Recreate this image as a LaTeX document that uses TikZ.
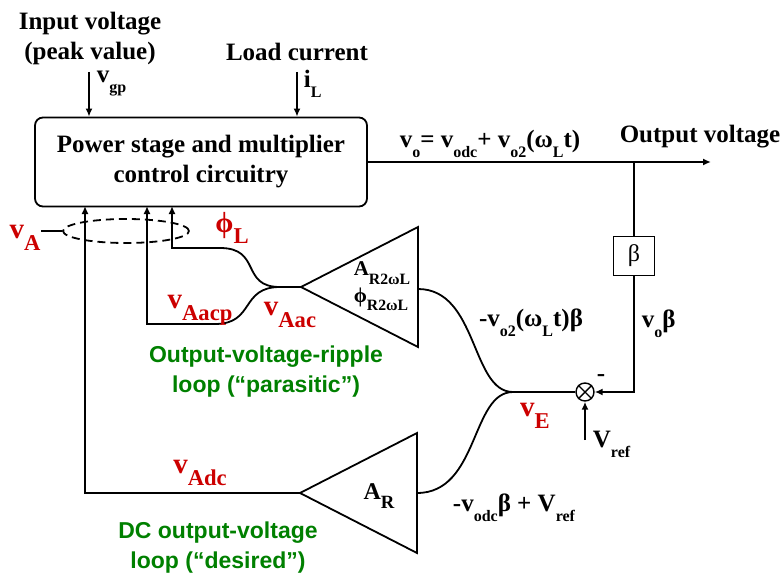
\documentclass[tikz,border=0pt]{standalone}
\usepackage{fontspec}
\setmainfont{Liberation Serif}
\newfontfamily\loopfont{Liberation Sans}
\usetikzlibrary{arrows.meta,positioning,shapes.geometric}
\definecolor{sigred}{RGB}{204,0,0}
\definecolor{loopgreen}{RGB}{0,128,0}
\newcommand{\dn}[2][0.64]{\raisebox{-0.4em}{\scalebox{#1}{#2}}}

\begin{document}
\begin{tikzpicture}[x=1pt,y=-1pt,line width=1.8pt,
  every node/.style={inner sep=0pt,font=\fontsize{25}{30}\selectfont\bfseries},
  sig/.style={text=sigred,font=\fontsize{29}{30}\selectfont\bfseries},
  looptxt/.style={text=loopgreen,align=center,font=\loopfont\fontsize{23}{30}\selectfont\bfseries},
  flow/.style={-{Latex[length=8pt,width=7pt]}},
  stagebox/.style={draw,rounded corners=8pt,minimum width=332pt,minimum height=89pt,align=center},
  ampbody/.style={line join=miter},
]
  \useasboundingbox (0,0) rectangle (783,580);

  % Power stage
  \node[stagebox] (ps) at (201,162) {Power stage and multiplier\\control circuitry};

  % Inputs
  \node[align=center] (vin) at (90,38) {Input voltage\\(peak value)};
  \node (load) at (297,52) {Load current};
  \coordinate (vgptop) at (89,72);
  \coordinate (iltop) at (297,72);
  \draw[flow] (vgptop) -- (vgptop |- ps.north);
  \draw[flow] (iltop) -- (iltop |- ps.north);
  \node[anchor=west] (vgp) at (96,84) {v\dn{gp}};
  \node[anchor=west] (il) at (303,84) {i\dn{L}};

  % Output and feedback divider
  \coordinate (vout) at (711,162);
  \coordinate (tap) at (634,162);
  \draw[flow] (ps.east) -- (vout);
  \node (vosum) at (490,144) {v\dn{o}= v\dn{odc}+ v\dn{o2}(ω\dn{L}t)};
  \node (outlbl) at (700,137) {Output voltage};
  \node[draw,minimum width=41pt,minimum height=39pt,font=\fontsize{24}{24}\selectfont] (beta) at (634,256) {β};
  \draw (tap) -- (beta.north);
  \node[anchor=west] (vob) at (641,324) {v\dn{o}β};

  % Summing junction
  \node[draw,circle,minimum size=18pt,line width=1.4pt] (sum) at (585,392) {};
  \draw[line width=1.4pt] (sum.north west) -- (sum.south east) (sum.north east) -- (sum.south west);
  \draw[flow] (beta.south) |- (sum.east);
  \node (minus) at (601,378) {-};
  \coordinate (vrefin) at (585,440);
  \draw[flow] (vrefin) -- (sum.south);
  \node[anchor=west] (vref) at (592,444) {V\dn{ref}};
  \coordinate (ve) at (513,392);
  \draw (sum.west) -- (ve);
  \node[sig] (velbl) at (535,416) {v\dn[0.78]{E}};

  % Ripple amplifier
  \coordinate (riptip) at (301,287);
  \coordinate (ripout) at (418,289);
  \draw[ampbody] (riptip) -- ++(117,-60) -- ++(0,120) -- cycle;
  \node[font=\fontsize{21}{22}\selectfont\bfseries] (ripgain) at (382,273) {A\dn[0.75]{R2ωL}};
  \node[font=\fontsize{21}{22}\selectfont\bfseries] (ripphase) at (381,299) {ϕ\dn[0.75]{R2ωL}};
  \draw (ripout) .. controls +(60,0) and +(-42,0) .. (ve);
  \node (riperr) at (531,323) {-v\dn{o2}(ω\dn{L}t)β};

  % DC amplifier
  \coordinate (dctip) at (300,493);
  \coordinate (dcout) at (417,493);
  \draw[ampbody] (dctip) -- ++(117,-60) -- ++(0,120) -- cycle;
  \node[font=\fontsize{24}{25}\selectfont\bfseries] (dcgain) at (379,496) {A\dn[0.78]{R}};
  \draw (dcout) .. controls +(62,0) and +(-42,0) .. (ve);
  \node (dcerr) at (514,508) {-v\dn{odc}β + V\dn{ref}};

  % Control inputs back to the power stage
  \coordinate (ja) at (280,287);
  \coordinate (phibend) at (220,248);
  \coordinate (phiin) at (172,206);
  \coordinate (acpbend) at (215,324);
  \coordinate (acpin) at (147,206);
  \coordinate (adcin) at (85,206);
  \node[draw,dashed,dash pattern=on 8pt off 5pt,ellipse,minimum width=126pt,minimum height=24pt] (bundle) at (126,231) {};
  \draw (riptip) -- (ja);
  \draw[flow] (ja) .. controls +(-40,0) and +(42,0) .. (phibend) -| (phiin);
  \draw[flow] (ja) .. controls +(-40,0) and +(40,0) .. (acpbend) -| (acpin);
  \draw[flow] (dctip) -| (adcin);

  % Signal names
  \node[sig] (vA) at (25,238) {v\dn[0.78]{A}};
  \draw (vA.east |- bundle.west) -- (bundle.west);
  \node[sig] (phil) at (232,228) {ϕ\dn[0.78]{L}};
  \node[sig] (vaacp) at (200,310) {v\dn[0.78]{Aacp}};
  \node[sig] (vaac) at (290,315) {v\dn[0.78]{Aac}};
  \node[sig] (vadc) at (200,473) {v\dn[0.78]{Adc}};

  % Loop names
  \node[looptxt] (riploop) at (266,372) {Output-voltage-ripple\\loop (“parasitic”)};
  \node[looptxt] (dcloop) at (218,548) {DC output-voltage\\loop (“desired”)};
\end{tikzpicture}
\end{document}
